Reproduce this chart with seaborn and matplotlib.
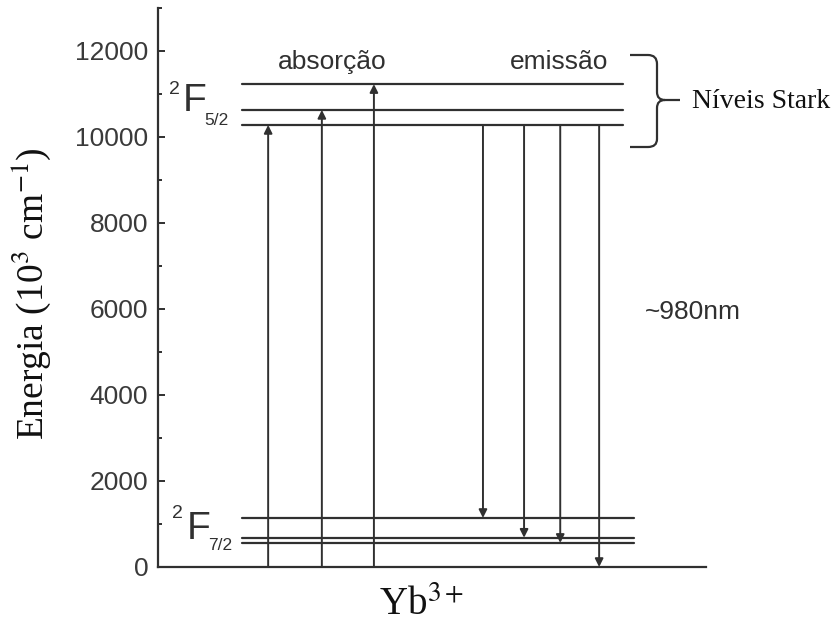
import numpy as np
import pandas as pd
import seaborn as sns
import matplotlib
matplotlib.use('Agg')
from matplotlib import pyplot as plt
from matplotlib.path import Path
from matplotlib.patches import PathPatch

# energy levels of Yb3+ (cm-1)
f52_levels = [10280, 10630, 11230]
f72_levels = [560, 680, 1140]

# transitions: absorption (up) and emission (down)
abs_x = [20.1, 29.9, 39.4]
abs_from = [0, 0, 0]
abs_to = [10280, 10630, 11230]
emi_x = [59.3, 66.8, 73.4, 80.5]
emi_from = [10280, 10280, 10280, 10280]
emi_to = [1140, 680, 560, 0]

y_ticks = [0, 2000, 4000, 6000, 8000, 10000, 12000]

sns.set_style('ticks')
plt.rcParams['font.family'] = ['Liberation Sans', 'DejaVu Sans']
plt.rcParams['mathtext.fontset'] = 'stix'

W, H = 833, 627
fig = plt.figure(figsize=(W / 100, H / 100), dpi=100)
ax = fig.add_axes([158 / W, 1 - 567 / H, 548 / W, 559 / H])

line_c = '#303030'

# levels as long-form table
rows = []
for i, e in enumerate(f52_levels):
    rows += [('F52_%d' % i, 15.3, e), ('F52_%d' % i, 84.9, e)]
for i, e in enumerate(f72_levels):
    rows += [('F72_%d' % i, 15.3, e), ('F72_%d' % i, 86.9, e)]
df_lv = pd.DataFrame(rows, columns=['level', 'x', 'energy'])
sns.lineplot(data=df_lv, x='x', y='energy', units='level', estimator=None,
             color=line_c, lw=1.6, ax=ax, legend=False)

arrow_kw = dict(arrowstyle='-|>', color=line_c, lw=1.4, mutation_scale=12,
                shrinkA=0, shrinkB=0)
for x, a, b in zip(abs_x, abs_from, abs_to):
    ax.annotate('', xy=(x, b), xytext=(x, a), arrowprops=arrow_kw)
for x, a, b in zip(emi_x, emi_from, emi_to):
    ax.annotate('', xy=(x, b), xytext=(x, a), arrowprops=arrow_kw)

ax.set_xlim(0, 100)
ax.set_ylim(0, 13000)
ax.set_yticks(y_ticks)
ax.set_yticks(np.arange(1000, 13001, 2000), minor=True)
ax.set_xticks([])
sns.despine(ax=ax)
for s in ['left', 'bottom']:
    ax.spines[s].set_linewidth(1.6)
    ax.spines[s].set_color('#303030')
ax.tick_params(axis='y', which='major', direction='in', length=5, width=1.4,
               labelsize=19, labelcolor='#3a3a3a', color='#303030', pad=7)
ax.tick_params(axis='y', which='minor', direction='in', length=3, width=1.4,
               color='#303030')

serif = ['Liberation Serif', 'DejaVu Serif']
ax.set_ylabel('Energia (10$^{3}$ cm$^{-1}$)', family=serif, fontsize=27,
              color='#111111', va='center')
ax.yaxis.set_label_coords(-0.232, 0.49)
ax.set_xlabel('Yb$^{3+}$', family=serif, fontsize=28, color='#111111', va='center')
ax.xaxis.set_label_coords(0.48, -0.068)

ax.text(31.8, 11750, 'absorção', ha='center', va='center', fontsize=19, color='#303030')
ax.text(73.2, 11750, 'emissão', ha='center', va='center', fontsize=19, color='#303030')
ax.text(88.9, 5930, '~980nm', ha='left', va='center', fontsize=19, color='#303030')


def ftext(x, y, s, **kw):
    fig.text(x / W, 1 - y / H, s, **kw)


# term symbols
ftext(169, 90, '2', fontsize=14, color='#303030', va='center', ha='left')
ftext(183, 101, 'F', fontsize=28, color='#303030', va='center', ha='left')
ftext(204, 121, '5/2', fontsize=12.5, color='#303030', va='center', ha='left')
ftext(172, 514, '2', fontsize=14, color='#303030', va='center', ha='left')
ftext(187, 529, 'F', fontsize=28, color='#303030', va='center', ha='left')
ftext(208, 545, '7/2', fontsize=12.5, color='#303030', va='center', ha='left')

ftext(692, 101, 'Níveis Stark', family=serif, fontsize=20, color='#111111',
      va='center', ha='left')

# curly brace
pts = [(630, 55), (648, 55), (657, 55), (657, 64), (657, 92), (657, 100), (665, 100),
       (680, 100), (665, 100), (657, 100), (657, 108), (657, 139), (657, 147),
       (648, 147), (630, 147)]
codes = [Path.MOVETO, Path.LINETO, Path.CURVE3, Path.CURVE3, Path.LINETO, Path.CURVE3,
         Path.CURVE3, Path.LINETO, Path.MOVETO, Path.CURVE3, Path.CURVE3, Path.LINETO,
         Path.CURVE3, Path.CURVE3, Path.LINETO]
verts = [(x / W, 1 - y / H) for x, y in pts]
fig.add_artist(PathPatch(Path(verts, codes), transform=fig.transFigure, fill=False,
                         lw=1.6, edgecolor='#303030'))

plt.savefig('out.png', dpi=100)
